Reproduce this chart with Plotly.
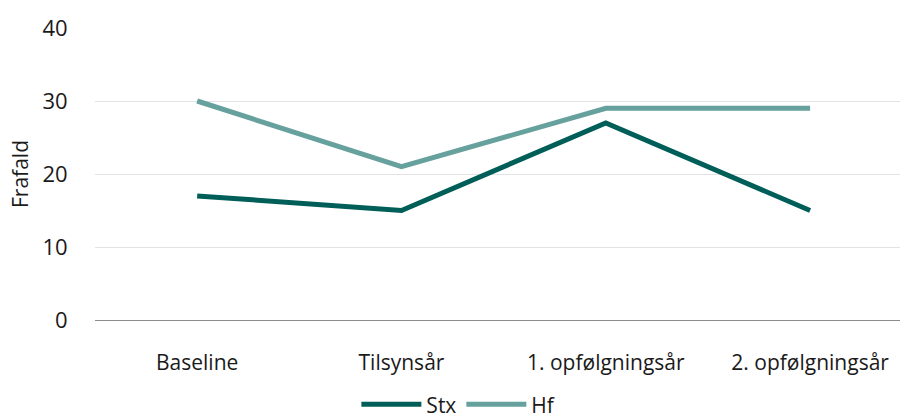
import plotly.graph_objects as go

categories = ["Baseline", "Tilsynsår", "1. opfølgningsår", "2. opfølgningsår"]
stx = [17, 15, 27, 15]
hf = [30, 21, 29, 29]
y_ticks = [0, 10, 20, 30, 40]

fig = go.Figure()
fig.add_trace(go.Scatter(x=categories, y=stx, name="Stx", mode="lines",
                         line=dict(color="#005E58", width=5)))
fig.add_trace(go.Scatter(x=categories, y=hf, name="Hf", mode="lines",
                         line=dict(color="#66A19D", width=5)))

fig.update_layout(
    width=900, height=420,
    margin=dict(l=95, r=0, t=28, b=100, autoexpand=False),
    paper_bgcolor="white", plot_bgcolor="white",
    font=dict(family="Open Sans, Noto Sans, sans-serif", size=21, color="#1a1a1a"),
    showlegend=True,
    legend=dict(orientation="h", x=0.452, xanchor="center", y=-0.29, yanchor="middle",
                font=dict(size=21), itemwidth=60, tracegroupgap=0),
    xaxis=dict(type="category", range=[-0.5, 3.44], showgrid=False, automargin=False,
               showline=False, ticks="outside", tickcolor="white", ticklen=24,
               tickfont=dict(size=21)),
    yaxis=dict(range=[0, 40], tickvals=y_ticks, showgrid=True, gridcolor="#E3E3E3",
               gridwidth=1, zeroline=True, zerolinecolor="#8C8C8C", zerolinewidth=1,
               showline=False, ticks="outside", tickcolor="white", ticklen=22,
               automargin=False,
               title=dict(text="Frafald", font=dict(size=21), standoff=8),
               tickfont=dict(size=22)),
)

fig.write_html("out.html", config={"displayModeBar": False},
               post_script="document.body.style.margin='0';")
